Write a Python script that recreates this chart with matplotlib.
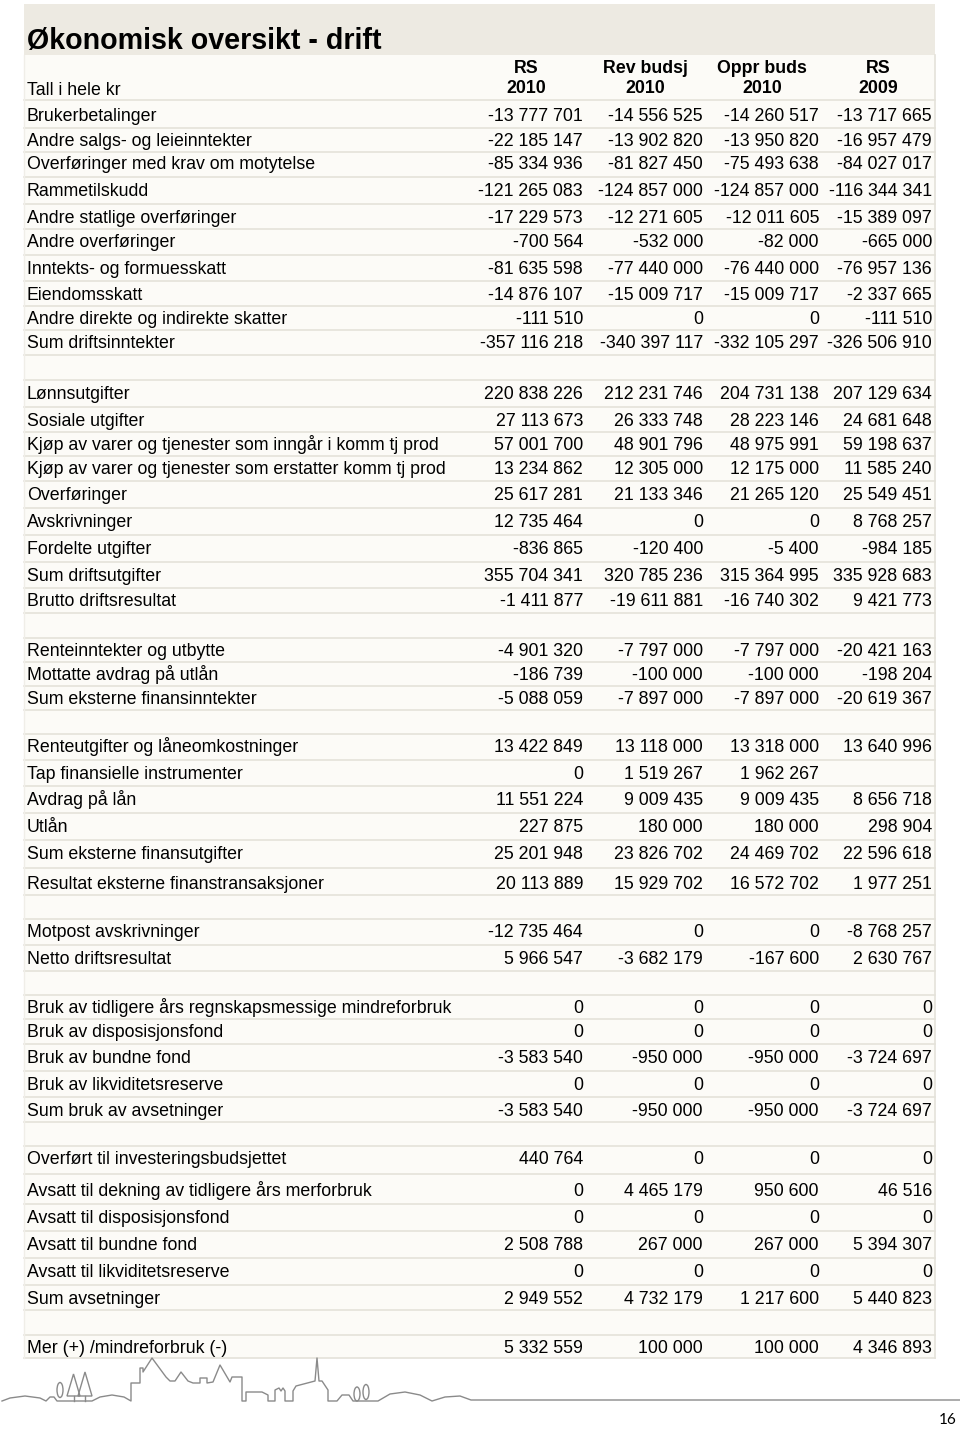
import matplotlib.pyplot as plt
from matplotlib.patches import Rectangle, Ellipse, Polygon

plt.rcParams['font.family'] = ['Liberation Sans', 'DejaVu Sans']

title = "Økonomisk oversikt - drift"
unit_label = "Tall i hele kr"
col_heads = [("RS", "2010"), ("Rev budsj", "2010"), ("Oppr buds", "2010"), ("RS", "2009")]

# None in labels = blank spacer row
labels = [
    "Brukerbetalinger", "Andre salgs- og leieinntekter", "Overføringer med krav om motytelse",
    "Rammetilskudd", "Andre statlige overføringer", "Andre overføringer",
    "Inntekts- og formuesskatt", "Eiendomsskatt", "Andre direkte og indirekte skatter",
    "Sum driftsinntekter", None,
    "Lønnsutgifter", "Sosiale utgifter", "Kjøp av varer og tjenester som inngår i komm tj prod",
    "Kjøp av varer og tjenester som erstatter komm tj prod", "Overføringer", "Avskrivninger",
    "Fordelte utgifter", "Sum driftsutgifter", "Brutto driftsresultat", None,
    "Renteinntekter og utbytte", "Mottatte avdrag på utlån", "Sum eksterne finansinntekter", None,
    "Renteutgifter og låneomkostninger", "Tap finansielle instrumenter", "Avdrag på lån", "Utlån",
    "Sum eksterne finansutgifter", "Resultat eksterne finanstransaksjoner", None,
    "Motpost avskrivninger", "Netto driftsresultat", None,
    "Bruk av tidligere års regnskapsmessige mindreforbruk", "Bruk av disposisjonsfond",
    "Bruk av bundne fond", "Bruk av likviditetsreserve", "Sum bruk av avsetninger", None,
    "Overført til investeringsbudsjettet", "Avsatt til dekning av tidligere års merforbruk",
    "Avsatt til disposisjonsfond", "Avsatt til bundne fond", "Avsatt til likviditetsreserve",
    "Sum avsetninger", None,
    "Mer (+) /mindreforbruk (-)",
]

rs_2010 = [
    -13777701, -22185147, -85334936, -121265083, -17229573, -700564, -81635598, -14876107,
    -111510, -357116218, None,
    220838226, 27113673, 57001700, 13234862, 25617281, 12735464, -836865, 355704341, -1411877, None,
    -4901320, -186739, -5088059, None,
    13422849, 0, 11551224, 227875, 25201948, 20113889, None,
    -12735464, 5966547, None,
    0, 0, -3583540, 0, -3583540, None,
    440764, 0, 0, 2508788, 0, 2949552, None,
    5332559,
]
rev_budsj_2010 = [
    -14556525, -13902820, -81827450, -124857000, -12271605, -532000, -77440000, -15009717,
    0, -340397117, None,
    212231746, 26333748, 48901796, 12305000, 21133346, 0, -120400, 320785236, -19611881, None,
    -7797000, -100000, -7897000, None,
    13118000, 1519267, 9009435, 180000, 23826702, 15929702, None,
    0, -3682179, None,
    0, 0, -950000, 0, -950000, None,
    0, 4465179, 0, 267000, 0, 4732179, None,
    100000,
]
oppr_buds_2010 = [
    -14260517, -13950820, -75493638, -124857000, -12011605, -82000, -76440000, -15009717,
    0, -332105297, None,
    204731138, 28223146, 48975991, 12175000, 21265120, 0, -5400, 315364995, -16740302, None,
    -7797000, -100000, -7897000, None,
    13318000, 1962267, 9009435, 180000, 24469702, 16572702, None,
    0, -167600, None,
    0, 0, -950000, 0, -950000, None,
    0, 950600, 0, 267000, 0, 1217600, None,
    100000,
]
rs_2009 = [
    -13717665, -16957479, -84027017, -116344341, -15389097, -665000, -76957136, -2337665,
    -111510, -326506910, None,
    207129634, 24681648, 59198637, 11585240, 25549451, 8768257, -984185, 335928683, 9421773, None,
    -20421163, -198204, -20619367, None,
    13640996, None, 8656718, 298904, 22596618, 1977251, None,
    -8768257, 2630767, None,
    0, 0, -3724697, 0, -3724697, None,
    0, 46516, 0, 5394307, 0, 5440823, None,
    4346893,
]

# layout (pixel positions on the page)
row_y = [115, 140, 163, 190, 217, 241, 268, 294, 318, 342, 367,
         393, 420, 444, 468, 494, 521, 548, 575, 600, 625,
         650, 674, 698, 722,
         746, 773, 799, 826, 853, 883, 906,
         931, 958, 983,
         1007, 1031, 1057, 1084, 1110, 1134,
         1158, 1190, 1217, 1244, 1271, 1298, 1322,
         1347]
col_right = [583, 703, 819, 932]
col_center = [526, 645, 762, 878]
left, right = 24, 935
fs = 12.8
half_cap = 6.3   # baseline offset so the cap height is centred on the row


def fmt(v):
    if v is None:
        return ""
    s = f"{abs(v):,}".replace(",", " ")
    return "-" + s if v < 0 else s


fig = plt.figure(figsize=(9.6, 14.3), dpi=100)
ax = fig.add_axes([0, 0, 1, 1])
ax.set_xlim(0, 960)
ax.set_ylim(1430, 0)
ax.axis('off')

line_col = "#E4E2DA"
# bands
ax.add_patch(Rectangle((left, 4), right - left, 51, facecolor="#EDEAE2", edgecolor="none"))
ax.add_patch(Rectangle((left, 55), right - left, 1358 - 55, facecolor="#FCFBF7", edgecolor="none"))

edges = [100] + [(a + b) / 2 for a, b in zip(row_y[:-1], row_y[1:])] + [1358]
for e in edges:
    ax.plot([left, right], [e, e], color=line_col, lw=1.2)
ax.plot([right, right], [55, 1358], color=line_col, lw=1.2)
ax.plot([left, left], [55, 1358], color="#F0EEE8", lw=1)

ax.text(27, 38 + 10.5, title, fontsize=20.6, fontweight='bold', va='baseline', ha='left', color='black')
ax.text(27, 89 + half_cap, unit_label, fontsize=fs, va='baseline', ha='left')
for (h1, h2), cx in zip(col_heads, col_center):
    ax.text(cx, 67 + half_cap, h1, fontsize=fs, fontweight='bold', va='baseline', ha='center')
    ax.text(cx, 87 + half_cap, h2, fontsize=fs, fontweight='bold', va='baseline', ha='center')

cols = [rs_2010, rev_budsj_2010, oppr_buds_2010, rs_2009]
for i, y in enumerate(row_y):
    if labels[i] is None:
        continue
    ax.text(27, y + half_cap, labels[i], fontsize=fs, va='baseline', ha='left')
    for c, xr in zip(cols, col_right):
        ax.text(xr, y + half_cap, fmt(c[i]), fontsize=fs, va='baseline', ha='right')

# skyline decoration at the bottom of the page
sky = [(2, 1401), (10, 1398), (25, 1396), (40, 1398), (46, 1401), (50, 1397), (54, 1397), (57, 1401),
       (92, 1401), (100, 1397), (112, 1395), (124, 1397), (131, 1401), (131, 1383), (140, 1383),
       (140, 1368), (143, 1368), (143, 1372), (152, 1358), (166, 1377), (170, 1381), (175, 1381),
       (181, 1372), (188, 1381), (193, 1383), (200, 1383), (200, 1378), (207, 1378), (207, 1383),
       (213, 1382), (220, 1365), (230, 1382), (232, 1377), (242, 1377), (242, 1401), (246, 1401),
       (246, 1392), (262, 1392), (268, 1395), (268, 1401), (275, 1401), (275, 1390), (279, 1388),
       (281, 1391), (283, 1388), (285, 1391), (285, 1401), (293, 1401), (293, 1391), (296, 1386),
       (315, 1381), (317, 1358), (319, 1381), (322, 1381), (328, 1390), (328, 1401), (337, 1401),
       (342, 1395), (349, 1395), (353, 1401), (378, 1401), (390, 1394), (405, 1392), (420, 1395),
       (432, 1401), (445, 1397), (460, 1396), (471, 1400), (960, 1400)]
ax.plot([p[0] for p in sky], [p[1] for p in sky], color="#8A8A8A", lw=1)
for cx, cy, w, h in [(60, 1390, 6, 15), (357, 1394, 6, 14), (366, 1392, 6, 15)]:
    ax.add_patch(Ellipse((cx, cy), w, h, fill=False, edgecolor="#8A8A8A", lw=1))
for x0, x1, top in [(67, 80, 1374), (78, 92, 1372)]:
    ax.add_patch(Polygon([(x0, 1396), ((x0 + x1) / 2, top), (x1, 1396)], closed=True, fill=False,
                         edgecolor="#8A8A8A", lw=1))
    ax.plot([(x0 + x1) / 2] * 2, [1396, 1401], color="#8A8A8A", lw=1)

ax.text(948, 1420, "16", fontsize=11, va='center', ha='center', family=['Lato', 'DejaVu Sans'])

fig.savefig("out.png", dpi=100, facecolor='white')
